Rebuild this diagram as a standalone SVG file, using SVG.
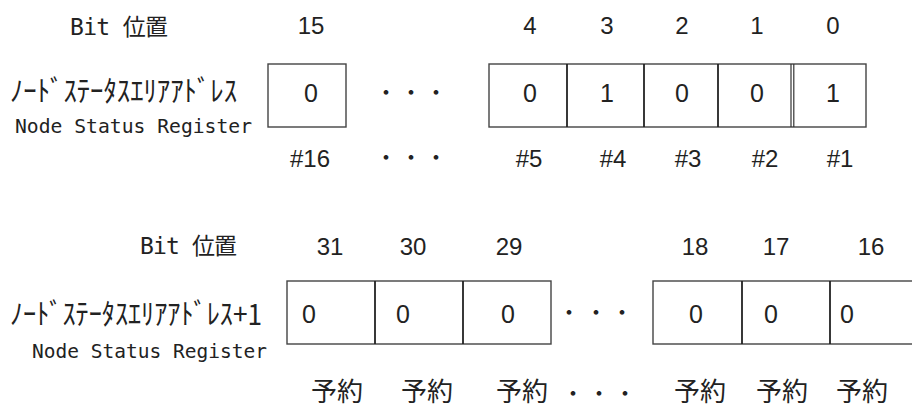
<svg xmlns="http://www.w3.org/2000/svg" width="912" height="408" viewBox="0 0 912 408">
<style>
.bg{fill:#fff}
.box{fill:#fff;stroke:#444;stroke-width:1.4}
.div{stroke:#222;stroke-width:1.8}
.dbl{stroke:#333;stroke-width:1.2}
.num{font-family:"Liberation Sans",Arial,sans-serif;font-size:24px;fill:#222;text-anchor:middle}
.val{font-family:"Liberation Sans",Arial,sans-serif;font-size:25px;fill:#222;text-anchor:middle}
.mono{font-family:"DejaVu Sans Mono","Liberation Mono","Noto Sans CJK JP",monospace;font-size:20px;fill:#222}
.bit{font-family:"DejaVu Sans Mono","Noto Sans CJK JP",monospace;font-size:23px;fill:#222}
.kana{font-family:"Noto Sans CJK JP",sans-serif;font-size:29px;fill:#222}
.dot{font-family:"Noto Sans CJK JP",sans-serif;font-size:22px;fill:#222;text-anchor:middle}
.rsv{font-family:"Noto Sans CJK JP",sans-serif;font-size:26px;fill:#222;text-anchor:middle}
</style>
<rect class="bg" x="0" y="0" width="912" height="408"/>

<!-- Register 1 -->
<g id="label-reg1">
  <text class="bit" x="70" y="35" textLength="98" lengthAdjust="spacing">Bit 位置</text>
  <text class="kana" x="10" y="102" textLength="227" lengthAdjust="spacingAndGlyphs">ﾉｰﾄﾞｽﾃｰﾀｽｴﾘｱｱﾄﾞﾚｽ</text>
  <text class="mono" x="15" y="133" textLength="237" lengthAdjust="spacingAndGlyphs">Node Status Register</text>
</g>
<g id="bitpos-reg1">
  <text class="num" x="311" y="34">15</text>
  <text class="num" x="530" y="34">4</text>
  <text class="num" x="607" y="34">3</text>
  <text class="num" x="682" y="34">2</text>
  <text class="num" x="757" y="34">1</text>
  <text class="num" x="833" y="34">0</text>
</g>
<g id="bit15">
  <rect class="box" x="268" y="64" width="78" height="63"/>
  <text class="val" x="311" y="102">0</text>
</g>
<g id="dots-reg1">
  <text class="dot" x="386 411 436" y="100">・・・</text>
  <text class="dot" x="386 411 436" y="165">・・・</text>
</g>
<g id="bits4-0">
  <rect class="box" x="489" y="64" width="377" height="63"/>
  <line class="div" x1="567" y1="64" x2="567" y2="127"/>
  <line class="div" x1="644" y1="64" x2="644" y2="127"/>
  <line class="div" x1="718" y1="64" x2="718" y2="127"/>
  <line class="dbl" x1="791" y1="64" x2="791" y2="127"/>
  <line class="dbl" x1="793.8" y1="64" x2="793.8" y2="127"/>
  <text class="val" x="530" y="102">0</text>
  <text class="val" x="607" y="102">1</text>
  <text class="val" x="682" y="102">0</text>
  <text class="val" x="757" y="102">0</text>
  <text class="val" x="833" y="102">1</text>
</g>
<g id="nodenum-reg1">
  <text class="num" x="310" y="167">#16</text>
  <text class="num" x="529" y="167">#5</text>
  <text class="num" x="613" y="167">#4</text>
  <text class="num" x="688" y="167">#3</text>
  <text class="num" x="765" y="167">#2</text>
  <text class="num" x="840" y="167">#1</text>
</g>

<!-- Register 2 -->
<g id="label-reg2">
  <text class="bit" x="140" y="254" textLength="97" lengthAdjust="spacing">Bit 位置</text>
  <text class="kana" x="10" y="325" textLength="252" lengthAdjust="spacingAndGlyphs">ﾉｰﾄﾞｽﾃｰﾀｽｴﾘｱｱﾄﾞﾚｽ+1</text>
  <text class="mono" x="32" y="358" textLength="235" lengthAdjust="spacingAndGlyphs">Node Status Register</text>
</g>
<g id="bitpos-reg2">
  <text class="num" x="330" y="255">31</text>
  <text class="num" x="413" y="255">30</text>
  <text class="num" x="509" y="255">29</text>
  <text class="num" x="695" y="255">18</text>
  <text class="num" x="776" y="255">17</text>
  <text class="num" x="871" y="255">16</text>
</g>
<g id="bits31-29">
  <rect class="box" x="287" y="281" width="264" height="63"/>
  <line class="div" x1="375" y1="281" x2="375" y2="344"/>
  <line class="div" x1="463" y1="281" x2="463" y2="344"/>
  <text class="val" x="309" y="323">0</text>
  <text class="val" x="403" y="323">0</text>
  <text class="val" x="508" y="323">0</text>
</g>
<g id="dots-reg2">
  <text class="dot" x="569 596 622" y="320">・・・</text>
  <text class="dot" x="573 599 625" y="401">・・・</text>
</g>
<g id="bits18-16">
  <rect class="box" x="653" y="281" width="262" height="63"/>
  <line class="div" x1="742" y1="281" x2="742" y2="344"/>
  <line class="div" x1="830" y1="281" x2="830" y2="344"/>
  <text class="val" x="696" y="323">0</text>
  <text class="val" x="771" y="323">0</text>
  <text class="val" x="847" y="323">0</text>
</g>
<g id="reserved-reg2">
  <text class="rsv" x="337" y="401">予約</text>
  <text class="rsv" x="427" y="401">予約</text>
  <text class="rsv" x="522" y="401">予約</text>
  <text class="rsv" x="700" y="401">予約</text>
  <text class="rsv" x="782" y="401">予約</text>
  <text class="rsv" x="862" y="401">予約</text>
</g>
</svg>
